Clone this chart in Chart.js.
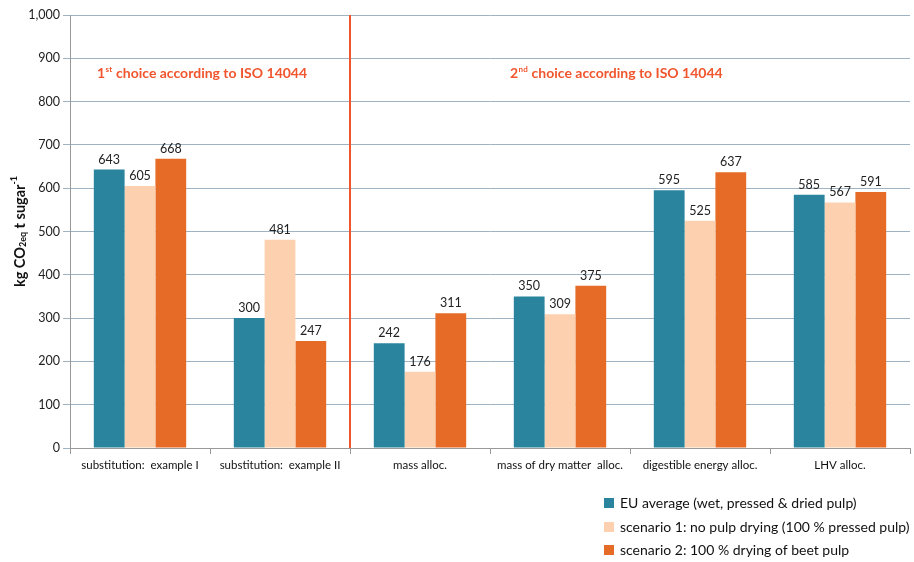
<!DOCTYPE html>
<html><head><meta charset="utf-8">
<script src="https://cdn.jsdelivr.net/npm/chart.js@4/dist/chart.umd.min.js"></script>
<style>html,body{margin:0;padding:0;background:#fff}#wrap{width:914px;height:562px;position:relative}</style>
</head><body><div id="wrap"><canvas id="c" width="914" height="562"></canvas></div>
<script>
const categories = ["substitution:  example I","substitution:  example II","mass alloc.","mass of dry matter  alloc.","digestible energy alloc.","LHV alloc."];
const euAverage = [643, 300, 242, 350, 595, 585];
const scenario1 = [605, 481, 176, 309, 525, 567];
const scenario2 = [668, 247, 311, 375, 637, 591];
const seriesNames = ["EU average (wet, pressed & dried pulp)","scenario 1: no pulp drying (100 % pressed pulp)","scenario 2: 100 % drying of beet pulp"];
const yTicks = [0,100,200,300,400,500,600,700,800,900,1000];

const colors = ["#2a849d","#fdd1b0","#e66b26"];
const FONT = "Lato, 'Open Sans', sans-serif";
const RED = "#f0552d";

function drawSup(ctx, x, y, base, sup, rest, size) {
  ctx.font = `bold ${size}px ${FONT}`;
  ctx.textBaseline = 'alphabetic';
  ctx.textAlign = 'left';
  ctx.fillText(base, x, y);
  let w = ctx.measureText(base).width;
  ctx.font = `bold ${Math.round(size*0.6)}px ${FONT}`;
  ctx.fillText(sup, x + w + 0.5, y - size*0.4);
  w += ctx.measureText(sup).width + 1;
  ctx.font = `bold ${size}px ${FONT}`;
  ctx.fillText(rest, x + w, y);
}

const extras = {
  id: 'extras',
  afterDatasetsDraw(chart) {
    const ctx = chart.ctx, xs = chart.scales.x, ys = chart.scales.y, area = chart.chartArea;
    ctx.save();
    // divider
    const xd = xs.getPixelForValue(1.5);
    ctx.strokeStyle = RED; ctx.lineWidth = 2;
    ctx.beginPath(); ctx.moveTo(xd, area.top); ctx.lineTo(xd, area.bottom); ctx.stroke();
    // annotations
    ctx.fillStyle = RED;
    const ay = ys.getPixelForValue(855);
    drawSup(ctx, xs.getPixelForValue(0) - 43, ay, "1", "st", " choice according to ISO 14044", 14);
    drawSup(ctx, xs.getPixelForValue(3.5) - 120, ay, "2", "nd", " choice according to ISO 14044", 14);
    // data labels
    ctx.fillStyle = "#222";
    ctx.font = `12.5px ${FONT}`;
    ctx.textAlign = 'center'; ctx.textBaseline = 'alphabetic';
    chart.data.datasets.forEach((ds, i) => {
      chart.getDatasetMeta(i).data.forEach((bar, j) => {
        ctx.fillText(String(ds.data[j]), bar.x, bar.y - 6);
      });
    });
    // y title
    ctx.save();
    ctx.translate(20, (area.top + area.bottom) / 2);
    ctx.rotate(-Math.PI / 2);
    ctx.fillStyle = "#111";
    const parts = [["kg CO",14.5,0],["2eq",9,3],[" t sugar",14.5,0],["-1",9,-6]];
    let total = 0;
    parts.forEach(p => { ctx.font = `bold ${p[1]}px ${FONT}`; total += ctx.measureText(p[0]).width; });
    let x = -total / 2;
    ctx.textAlign = 'left'; ctx.textBaseline = 'middle';
    parts.forEach(p => { ctx.font = `bold ${p[1]}px ${FONT}`; ctx.fillText(p[0], x, p[2]); x += ctx.measureText(p[0]).width; });
    ctx.restore();
    // legend
    ctx.font = `14px ${FONT}`;
    ctx.textAlign = 'left'; ctx.textBaseline = 'middle';
    const lx = 604, ly = [503, 527, 550];
    chart.data.datasets.forEach((ds, i) => {
      ctx.fillStyle = ds.backgroundColor;
      ctx.fillRect(lx, ly[i] - 5, 10, 10);
      ctx.fillStyle = "#111";
      ctx.fillText(ds.label, lx + 16, ly[i]);
    });
    ctx.restore();
  }
};

new Chart(document.getElementById('c'), {
  type: 'bar',
  data: {
    labels: categories,
    datasets: [
      { label: seriesNames[0], data: euAverage, backgroundColor: colors[0] },
      { label: seriesNames[1], data: scenario1, backgroundColor: colors[1] },
      { label: seriesNames[2], data: scenario2, backgroundColor: colors[2] }
    ]
  },
  options: {
    responsive: false, animation: false,
    layout: { padding: { top: 15, right: 4, left: 0, bottom: 0 } },
    plugins: { legend: { display: false }, tooltip: { enabled: false } },
    datasets: { bar: { categoryPercentage: 0.66, barPercentage: 1.0 } },
    scales: {
      x: {
        offset: true,
        grid: { display: true, offset: true, drawOnChartArea: false, tickLength: 6, color: '#999' },
        border: { color: '#999' },
        ticks: { color: '#111', font: { family: FONT, size: 11.5 }, padding: 4, maxRotation: 0, autoSkip: false },
        afterFit(s) { s.height = 114; }
      },
      y: {
        min: 0, max: 1000,
        afterBuildTicks(s) { s.ticks = yTicks.map(v => ({ value: v })); },
        grid: { color: '#9fb3c3', tickLength: 7, lineWidth: 1 },
        border: { color: '#999' },
        ticks: { color: '#222', font: { family: FONT, size: 12.5 }, padding: 3,
          callback: v => v.toLocaleString('en-US') },
        afterFit(s) { s.width = 70; }
      }
    }
  },
  plugins: [extras]
});
</script></body></html>
